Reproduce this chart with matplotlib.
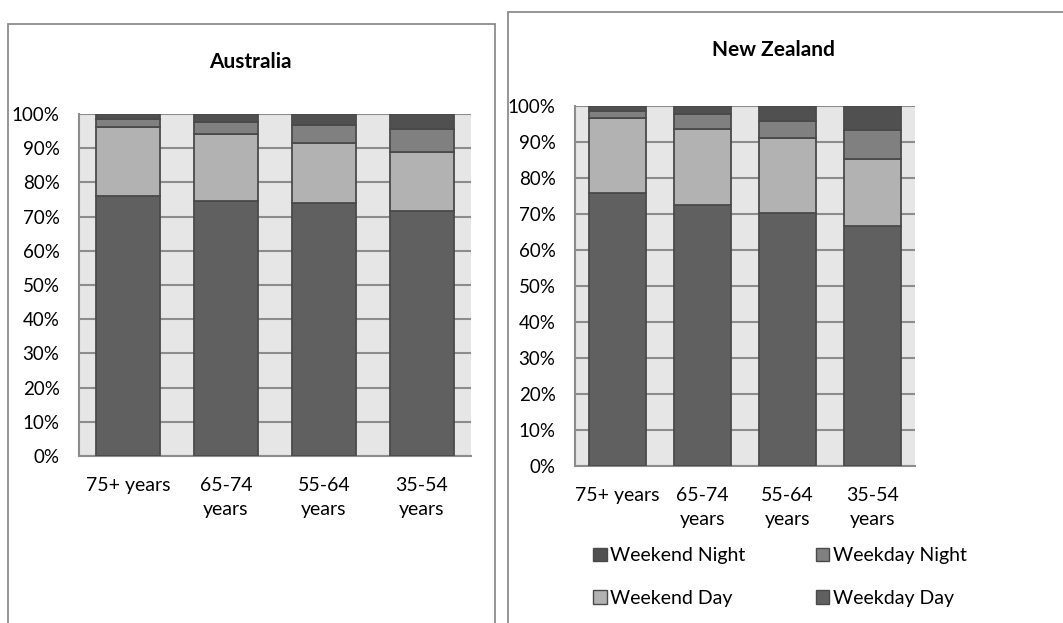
import matplotlib
matplotlib.use("Agg")
import matplotlib.pyplot as plt
from matplotlib.patches import Rectangle, Patch
from matplotlib.ticker import PercentFormatter

plt.rcParams['font.family'] = ['Lato', 'DejaVu Sans']

# age groups and shares of driving (percent), stacked bottom to top
ages = ["75+ years", "65-74\nyears", "55-64\nyears", "35-54\nyears"]
series = ["Weekday Day", "Weekend Day", "Weekday Night", "Weekend Night"]
colors = ["#606060", "#b2b2b2", "#808080", "#505050"]

aus_weekday_day = [76.0, 74.7, 73.9, 71.6]
aus_weekend_day = [20.1, 19.5, 17.7, 17.3]
aus_weekday_night = [2.3, 3.5, 5.2, 6.6]
aus_weekend_night = [1.6, 2.3, 3.2, 4.5]

nz_weekday_day = [75.7, 72.6, 70.2, 66.7]
nz_weekend_day = [21.0, 21.1, 20.8, 18.7]
nz_weekday_night = [1.8, 4.0, 4.9, 7.9]
nz_weekend_night = [1.5, 2.3, 4.1, 6.7]

W, H = 1063, 623
fig = plt.figure(figsize=(W / 100, H / 100), dpi=100)

# chart frames (left, top, right) in pixels; both run off the bottom edge
for x0, y0, x1 in [(8, 24, 495), (508, 12, 1100)]:
    fig.add_artist(Rectangle((x0 / W, -0.1), (x1 - x0) / W, 1.1 - y0 / H,
                             transform=fig.transFigure, fill=False,
                             edgecolor="#8c8c8c", linewidth=1.3, clip_on=False))


def stacked(ax, title, title_xy, cols):
    ax.set_facecolor("#e6e6e6")
    x = range(len(ages))
    bottom = [0] * len(ages)
    for vals, c in zip(cols, colors):
        ax.bar(x, vals, bottom=bottom, width=0.66, color=c,
               edgecolor="#4a4a4a", linewidth=1.3, zorder=3)
        bottom = [b + v for b, v in zip(bottom, vals)]
    ax.set_xlim(-0.5, len(ages) - 0.5)
    ax.set_ylim(0, 100)
    ax.set_yticks(range(0, 101, 10))
    ax.yaxis.set_major_formatter(PercentFormatter(decimals=0))
    ax.grid(axis="y", color="#8c8c8c", linewidth=1.5, zorder=1)
    ax.set_xticks(list(x))
    ax.set_xticklabels(ages, fontsize=14, linespacing=1.5)
    ax.tick_params(axis="y", labelsize=13.5, length=0, pad=14)
    ax.tick_params(axis="x", length=0, pad=15)
    for s in ["top", "right"]:
        ax.spines[s].set_visible(False)
    for s in ["left", "bottom"]:
        ax.spines[s].set_color("#8c8c8c")
        ax.spines[s].set_linewidth(1.5)
    fig.text(title_xy[0] / W, 1 - title_xy[1] / H, title,
             fontsize=15, fontweight="bold", ha="center", va="center")


ax1 = fig.add_axes([79 / W, 1 - 456 / H, 392 / W, 342 / H])
stacked(ax1, "Australia", (250, 62),
        [aus_weekday_day, aus_weekend_day, aus_weekday_night, aus_weekend_night])

ax2 = fig.add_axes([575 / W, 1 - 466 / H, 340 / W, 360 / H])
stacked(ax2, "New Zealand", (773, 50),
        [nz_weekday_day, nz_weekend_day, nz_weekday_night, nz_weekend_night])

# legend reads row by row: Weekend Night, Weekday Night / Weekend Day, Weekday Day
handles = {s: Patch(facecolor=c, edgecolor="#4a4a4a", linewidth=1.0)
           for s, c in zip(series, colors)}
order = ["Weekend Night", "Weekend Day", "Weekday Night", "Weekday Day"]
fig.legend([handles[s] for s in order], order, ncol=2, frameon=False,
           fontsize=14, loc="center", bbox_to_anchor=(780 / W, 1 - 577 / H),
           handlelength=0.7, handleheight=0.7, handletextpad=0.2,
           labelspacing=1.3, columnspacing=3.6)

fig.savefig("out.png", dpi=100)
